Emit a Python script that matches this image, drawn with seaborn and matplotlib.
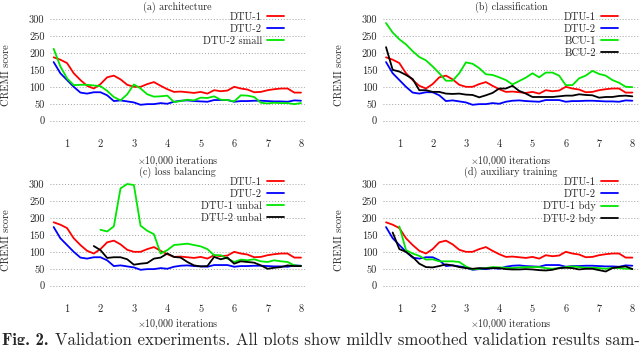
import numpy as np
import pandas as pd
import seaborn as sns
from matplotlib import pyplot as plt

iters = [0.6, 0.8, 1.0, 1.2, 1.4, 1.6, 1.8, 2.0, 2.2, 2.4, 2.6, 2.8, 3.0,
         3.2, 3.4, 3.6, 3.8, 4.0, 4.2, 4.4, 4.6, 4.8, 5.0, 5.2, 5.4, 5.6,
         5.8, 6.0, 6.2, 6.4, 6.6, 6.8, 7.0, 7.2, 7.4, 7.6, 7.8, 8.0]

dtu1 = [187, 180, 170, 140, 120, 103, 95, 108, 128, 133, 122, 106, 100,
        100, 108, 114, 103, 93, 85, 86, 84, 82, 85, 80, 90, 87,
        89, 100, 95, 92, 84, 85, 90, 93, 95, 95, 83, 83]
dtu2 = [173, 140, 120, 100, 83, 80, 84, 84, 75, 58, 60, 57, 54,
        47, 49, 49, 52, 50, 56, 59, 60, 58, 57, 56, 61, 61,
        61, 56, 58, 58, 59, 59, 58, 57, 57, 56, 60, 59]
dtu2_small = [212, 160, 125, 105, 106, 106, 104, 102, 88, 70, 60, 78, 107,
              95, 78, 71, 72, 74, 55, 58, 62, 60, 68, 67, 72, 62,
              61, 57, 75, 74, 70, 53, 51, 53, 52, 52, 49, 52]
bcu1 = [288, 260, 240, 225, 205, 188, 178, 160, 140, 118, 118, 140, 172,
        168, 155, 137, 135, 128, 120, 107, 117, 127, 140, 128, 142, 142,
        133, 105, 105, 125, 133, 147, 138, 133, 120, 112, 100, 99]
bcu2 = [217, 150, 145, 135, 123, 90, 90, 85, 85, 80, 79, 80, 77,
        76, 69, 75, 82, 95, 95, 103, 88, 80, 70, 70, 70, 70,
        72, 74, 74, 78, 76, 75, 68, 70, 70, 73, 74, 72]
dtu1_unbal = [None, None, None, None, None, None, None, 165, 160, 175, 287, 300, 297,
              177, 162, 152, 95, 105, 120, 122, 124, 120, 116, 108, 90, 90,
              80, 70, 77, 75, 78, 72, 70, 75, 72, 70, 60, 58]
dtu2_unbal = [None, None, None, None, None, None, 117, 105, 82, 84, 84, 78, 62,
              65, 67, 80, 83, 95, 85, 83, 70, 60, 57, 58, 85, 78,
              83, 65, 72, 70, 68, 60, 50, 53, 55, 60, 58, 58]
dtu1_bdy = [None, None, 175, 105, 95, 88, 77, 78, 72, 72, 72, 70, 57,
            48, 50, 52, 55, 54, 53, 52, 54, 55, 55, 55, 52, 50,
            52, 55, 57, 55, 53, 53, 52, 50, 53, 52, 50, 50]
dtu2_bdy = [None, 157, 108, 100, 85, 65, 55, 54, 58, 63, 60, 55, 52,
            50, 52, 51, 52, 52, 49, 48, 48, 49, 48, 46, 45, 47,
            52, 53, 52, 48, 50, 50, 46, 42, 52, 55, 57, 49]

panels = [
    ('(a) architecture', {'DTU-1': dtu1, 'DTU-2': dtu2, 'DTU-2 small': dtu2_small}),
    ('(b) classification', {'DTU-1': dtu1, 'DTU-2': dtu2, 'BCU-1': bcu1, 'BCU-2': bcu2}),
    ('(c) loss balancing', {'DTU-1': dtu1, 'DTU-2': dtu2, 'DTU-1 unbal': dtu1_unbal,
                            'DTU-2 unbal': dtu2_unbal}),
    ('(d) auxiliary training', {'DTU-1': dtu1, 'DTU-2': dtu2, 'DTU-1 bdy': dtu1_bdy,
                                'DTU-2 bdy': dtu2_bdy}),
]
line_colors = ['red', 'blue', '#00e600', 'black']

caption_bold = 'Fig. 2.'
caption_text = 'Validation experiments. All plots show mildly smoothed validation results sam-'

sns.set_style('white')
plt.rcParams['font.family'] = ['cmr10', 'DejaVu Serif']
plt.rcParams['mathtext.fontset'] = 'cm'
plt.rcParams['axes.unicode_minus'] = False

fig = plt.figure(figsize=(6.4, 3.45), dpi=100)

W, H = 640, 345
# axes rectangles in pixels: left, right, top, bottom
rects = [(50, 305, 15.6, 134.3), (382.7, 639, 15.6, 134.3),
         (50, 305, 180.6, 299.3), (382.7, 639, 180.6, 299.3)]
xlims = [(0.49, 8.12), (0.5, 8.2), (0.49, 8.12), (0.5, 8.2)]

for i, ((title, series), (l, r, t, b), xl) in enumerate(zip(panels, rects, xlims)):
    ax = fig.add_axes([l / W, 1 - b / H, (r - l) / W, (b - t) / H])
    rows = []
    for name, vals in series.items():
        for x, v in zip(iters, vals):
            if v is not None:
                rows.append((x, v, name))
    df = pd.DataFrame(rows, columns=['iterations', 'score', 'run'])
    names = list(series.keys())
    sns.lineplot(data=df, x='iterations', y='score', hue='run', hue_order=names,
                 palette=dict(zip(names, line_colors)), linewidth=1.3, ax=ax)

    for yv in [0, 50, 100, 150, 200, 250, 300]:
        ax.axhline(yv, color='#a0a0a0', linestyle=(0, (1, 2)), linewidth=0.7, zorder=0)
    ax.set_xlim(*xl)
    ax.set_ylim(-40, 310)
    ax.set_xticks([1, 2, 3, 4, 5, 6, 7, 8])
    ax.set_yticks([0, 50, 100, 150, 200, 250, 300])
    ax.tick_params(length=0, labelsize=7.5, pad=4)
    sns.despine(ax=ax, left=True, bottom=True)
    ax.set_title(title, fontsize=7.2, pad=4)
    ax.set_xlabel(r'$\times$10,000 iterations', fontsize=7.2,
                  labelpad=4 if i < 2 else 2.5)
    ax.set_ylabel('CREMI score', fontsize=7.5, labelpad=13)
    ax.legend(loc='upper right', bbox_to_anchor=(1 - 14 / (r - l), 1.09),
              frameon=False, markerfirst=False, fontsize=7.5, handlelength=1.6,
              labelspacing=0.25, handletextpad=0.5, borderaxespad=0.3)

# caption, scaled so it spans the full width like the cropped page
size = 12
base = 0.5 / H
cap1 = fig.text(2 / W, base, caption_bold, fontsize=size,
                family=['cmb10', 'DejaVu Serif'], va='baseline', ha='left')
cap2 = fig.text(0, base, caption_text, fontsize=size, va='baseline', ha='left')
fig.canvas.draw()
bb1 = cap1.get_window_extent()
cap2.set_x((bb1.x1 + 6) / W)
fig.canvas.draw()
bb2 = cap2.get_window_extent()
scale = (638 - 2) / (bb2.x1 - bb1.x0)
size = size * scale
cap1.set_fontsize(size)
cap2.set_fontsize(size)
fig.canvas.draw()
bb1 = cap1.get_window_extent()
cap2.set_x((bb1.x1 + 6 * scale) / W)

fig.savefig('out.png', dpi=100)
